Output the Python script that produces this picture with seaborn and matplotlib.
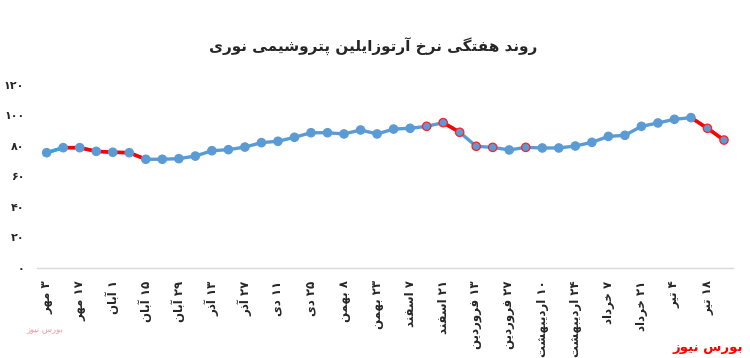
import seaborn as sns
import matplotlib.pyplot as plt
import numpy as np
import pandas as pd

# weekly price (thousand)
weeks = list(range(42))
price = [75.6, 78.9, 78.9, 76.5, 75.9, 75.6, 71.3, 71.3, 71.7, 73.4,
         76.9, 77.6, 79.3, 82.2, 83.1, 85.7, 88.7, 88.7, 87.9, 90.5,
         87.9, 91.1, 91.6, 92.9, 95.3, 89.0, 79.8, 79.1, 77.4, 79.1,
         78.7, 78.7, 80.0, 82.4, 86.3, 87.0, 92.9, 95.1, 97.5, 98.6,
         91.6, 83.9]
tick_labels = ["۳ مهر", "۱۷ مهر", "۱ آبان", "۱۵ آبان", "۲۹ آبان", "۱۳ آذر", "۲۷ آذر",
               "۱۱ دی", "۲۵ دی", "۸ بهمن", "۲۳ بهمن", "۷ اسفند", "۲۱ اسفند",
               "۱۳ فروردین", "۲۷ فروردین", "۱۰ اردیبهشت", "۲۴ اردیبهشت",
               "۷ خرداد", "۲۱ خرداد", "۴ تیر", "۱۸ تیر"]
yticks = [0, 20, 40, 60, 80, 100, 120]
title = "روند هفتگی نرخ آرتوزایلین پتروشیمی نوری"
source = "بورس نیوز"

# styling of the hand-coloured excel series
red_runs = [(1, 6), (24, 25), (39, 41)]
red_edge_pts = [23, 24, 25, 26, 27, 29, 40, 41]
blue = "#5B9BD5"

# --- tiny arabic shaper (no arabic_reshaper available) ---
FORMS = {
    "ا": (0xFE8D, 0xFE8E), "آ": (0xFE81, 0xFE82), "د": (0xFEA9, 0xFEAA),
    "ذ": (0xFEAB, 0xFEAC), "ر": (0xFEAD, 0xFEAE), "ز": (0xFEAF, 0xFEB0),
    "و": (0xFEED, 0xFEEE),
    "ب": (0xFE8F, 0xFE90, 0xFE91, 0xFE92), "پ": (0xFB56, 0xFB57, 0xFB58, 0xFB59),
    "ت": (0xFE95, 0xFE96, 0xFE97, 0xFE98), "خ": (0xFEA5, 0xFEA6, 0xFEA7, 0xFEA8),
    "س": (0xFEB1, 0xFEB2, 0xFEB3, 0xFEB4), "ش": (0xFEB5, 0xFEB6, 0xFEB7, 0xFEB8),
    "ف": (0xFED1, 0xFED2, 0xFED3, 0xFED4), "گ": (0xFB92, 0xFB93, 0xFB94, 0xFB95),
    "ل": (0xFEDD, 0xFEDE, 0xFEDF, 0xFEE0), "م": (0xFEE1, 0xFEE2, 0xFEE3, 0xFEE4),
    "ن": (0xFEE5, 0xFEE6, 0xFEE7, 0xFEE8), "ه": (0xFEE9, 0xFEEA, 0xFEEB, 0xFEEC),
    "ی": (0xFBFC, 0xFBFD, 0xFBFE, 0xFBFF),
}


def shape_word(w):
    if not any(c in FORMS for c in w):
        return w
    out = []
    for i, c in enumerate(w):
        f = FORMS.get(c)
        if f is None:
            out.append(c)
            continue
        prev_j = i > 0 and len(FORMS.get(w[i - 1], ())) == 4
        next_j = len(f) == 4 and i < len(w) - 1 and w[i + 1] in FORMS
        if prev_j and next_j:
            k = 3
        elif prev_j:
            k = 1
        elif next_j:
            k = 2
        else:
            k = 0
        out.append(chr(f[k]))
    return "".join(reversed(out))


def fa(text):
    return " ".join(shape_word(w) for w in reversed(text.split()))


def fa_num(n):
    return str(n).translate(str.maketrans("0123456789", "۰۱۲۳۴۵۶۷۸۹"))


sns.set_style("white")
plt.rcParams["font.family"] = ["DejaVu Sans"]

df = pd.DataFrame({"week": weeks, "price": price})

fig = plt.figure(figsize=(7.5, 3.58), dpi=100)
ax = fig.add_axes([0.049, 0.2514, 0.928, 0.5112])

sns.lineplot(data=df, x="week", y="price", color=blue, lw=2.4, ax=ax, zorder=2)
sns.lineplot(data=df.iloc[0:2], x="week", y="price", color="#2AA7E4", lw=2.4, ax=ax, zorder=3)
for a, b in red_runs:
    sns.lineplot(data=df.iloc[a:b + 1], x="week", y="price", color="#FF0000", lw=2.6, ax=ax, zorder=3)

edges = ["#FF2020" if i in red_edge_pts else blue for i in weeks]
sns.scatterplot(data=df, x="week", y="price", color=blue, s=36, edgecolor=edges,
                linewidth=0.9, ax=ax, zorder=4, legend=False)

ax.set_xlim(-0.6, 41.53)
ax.set_ylim(0, 120)
ax.set_xticks(weeks[::2])
ax.set_xticklabels([fa(t) for t in tick_labels], rotation=90, fontsize=8.5,
                   fontweight="bold", ha="center", va="top")
ax.set_yticks(yticks)
ax.set_yticklabels([fa_num(v) for v in yticks], fontsize=8, fontweight="bold")
ax.tick_params(axis="x", length=0, pad=9)
ax.tick_params(axis="y", length=0, pad=9)
ax.set_xlabel("")
ax.set_ylabel("")
for s in ["top", "right", "left"]:
    ax.spines[s].set_visible(False)
ax.spines["bottom"].set_color("#D9D9D9")
ax.spines["bottom"].set_linewidth(1.0)

fig.text(0.497, 0.868, fa(title), ha="center", va="center", fontsize=11, fontweight="bold")
fig.text(0.99, 0.03, fa(source), ha="right", va="center", fontsize=9.5,
         fontweight="bold", color="#FF0000")
fig.text(0.06, 0.08, fa(source), ha="center", va="center", fontsize=6,
         color="#EE9A9E")

fig.savefig("out.png", dpi=100)
